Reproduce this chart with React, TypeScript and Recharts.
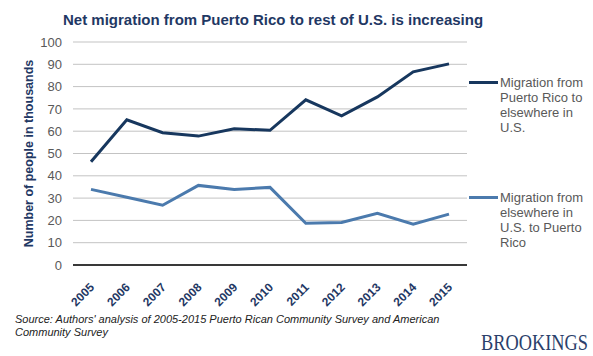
import React from "react";
import { LineChart, Line, XAxis, YAxis, CartesianGrid, Legend, Label } from "recharts";

const YEARS = ["2005", "2006", "2007", "2008", "2009", "2010", "2011", "2012", "2013", "2014", "2015"];
const FROM_PR = [46.3, 65.1, 59.3, 57.8, 61.1, 60.4, 74.1, 66.9, 75.4, 86.6, 90.2];
const TO_PR = [33.9, 30.4, 26.8, 35.7, 33.9, 34.8, 18.7, 19.1, 23.2, 18.3, 22.8];
const Y_TICKS = [0, 10, 20, 30, 40, 50, 60, 70, 80, 90, 100];

const SERIES = [
  { key: "fromPR", color: "#17375e", lines: ["Migration from", "Puerto Rico to", "elsewhere in", "U.S."] },
  { key: "toPR", color: "#4b7aad", lines: ["Migration from", "elsewhere in", "U.S. to Puerto", "Rico"] },
];

const data = YEARS.map((year, i) => ({ year, fromPR: FROM_PR[i], toPR: TO_PR[i] }));

const FONT = "'Liberation Sans', Arial, sans-serif";
const NAVY = "#1f3864";
const GRAY = "#595959";
const LEGEND_W = 120;

const YearTick = (props: any) => {
  const { x, y, payload } = props;
  return (
    <text
      x={0}
      y={0}
      transform={`translate(${x + 4},${y + 15}) rotate(-45)`}
      textAnchor="end"
      fontFamily={FONT}
      fontSize={12}
      fontWeight="bold"
      fill={NAVY}
    >
      {payload.value}
    </text>
  );
};

const LegendBox = () => (
  <div style={{ fontFamily: FONT, fontSize: 13, color: GRAY, lineHeight: "15px" }}>
    {SERIES.map((s) => (
      <div key={s.key} style={{ display: "flex", height: 115 }}>
        <div style={{ width: 29, height: 3, background: s.color, marginTop: 6, marginRight: 2 }} />
        <div>
          {s.lines.map((l) => (
            <div key={l}>{l}</div>
          ))}
        </div>
      </div>
    ))}
  </div>
);

export default function App() {
  return (
    <div style={{ position: "absolute", left: 0, top: 0, width: 593, height: 356, background: "#fff" }}>
      <div
        style={{
          position: "absolute",
          left: 63,
          top: 11,
          fontFamily: FONT,
          fontSize: 15,
          fontWeight: "bold",
          color: NAVY,
          whiteSpace: "nowrap",
        }}
      >
        Net migration from Puerto Rico to rest of U.S. is increasing
      </div>
      {/* plot area: x 73..467, y 42..265; the legend width is added to the right margin */}
      <LineChart width={593} height={356} data={data} margin={{ top: 42, right: 126 - LEGEND_W, bottom: 61, left: 0 }}>
        <CartesianGrid vertical={false} stroke="#c3c3c3" />
        <XAxis
          dataKey="year"
          height={30}
          padding={{ left: 18, right: 18 }}
          axisLine={{ stroke: "#000", strokeWidth: 1.5 }}
          tickLine={false}
          tick={<YearTick />}
          interval={0}
        />
        <YAxis
          width={73}
          domain={[0, 100]}
          ticks={Y_TICKS}
          interval={0}
          axisLine={false}
          tickLine={false}
          tickMargin={5}
          tick={{ fontFamily: FONT, fontSize: 13, fill: GRAY }}
        >
          <Label
            content={(p: any) => {
              const vb = p.viewBox;
              const cx = 29;
              const cy = vb.y + vb.height / 2;
              return (
                <text
                  x={cx}
                  y={cy}
                  transform={`rotate(-90, ${cx}, ${cy})`}
                  textAnchor="middle"
                  dominantBaseline="central"
                  fontFamily={FONT}
                  fontSize={12.5}
                  fontWeight="bold"
                  fill={NAVY}
                >
                  Number of people in thousands
                </text>
              );
            }}
          />
        </YAxis>
        <Legend
          layout="vertical"
          align="right"
          verticalAlign="top"
          content={<LegendBox />}
          wrapperStyle={{ left: 469, top: 75, width: LEGEND_W }}
        />
        {SERIES.map((s) => (
          <Line
            key={s.key}
            dataKey={s.key}
            stroke={s.color}
            strokeWidth={3}
            dot={false}
            activeDot={false}
            isAnimationActive={false}
          />
        ))}
      </LineChart>
      <div
        style={{
          position: "absolute",
          left: 15,
          top: 313,
          fontFamily: FONT,
          fontSize: 11,
          fontStyle: "italic",
          color: "#222",
          lineHeight: "13px",
          width: 470,
        }}
      >
        Source: Authors' analysis of 2005-2015 Puerto Rican Community Survey and American Community Survey
      </div>
      <svg style={{ position: "absolute", left: 0, top: 0 }} width={593} height={356}>
        {/* condensed wordmark: narrow font size, stretched vertically */}
        <text
          x={0}
          y={0}
          transform="translate(481,350) scale(1,1.25)"
          textLength={107}
          lengthAdjust="spacingAndGlyphs"
          fontFamily="'Liberation Serif', serif"
          fontSize={19}
          fill="#2b3f6b"
        >
          BROOKINGS
        </text>
      </svg>
    </div>
  );
}
